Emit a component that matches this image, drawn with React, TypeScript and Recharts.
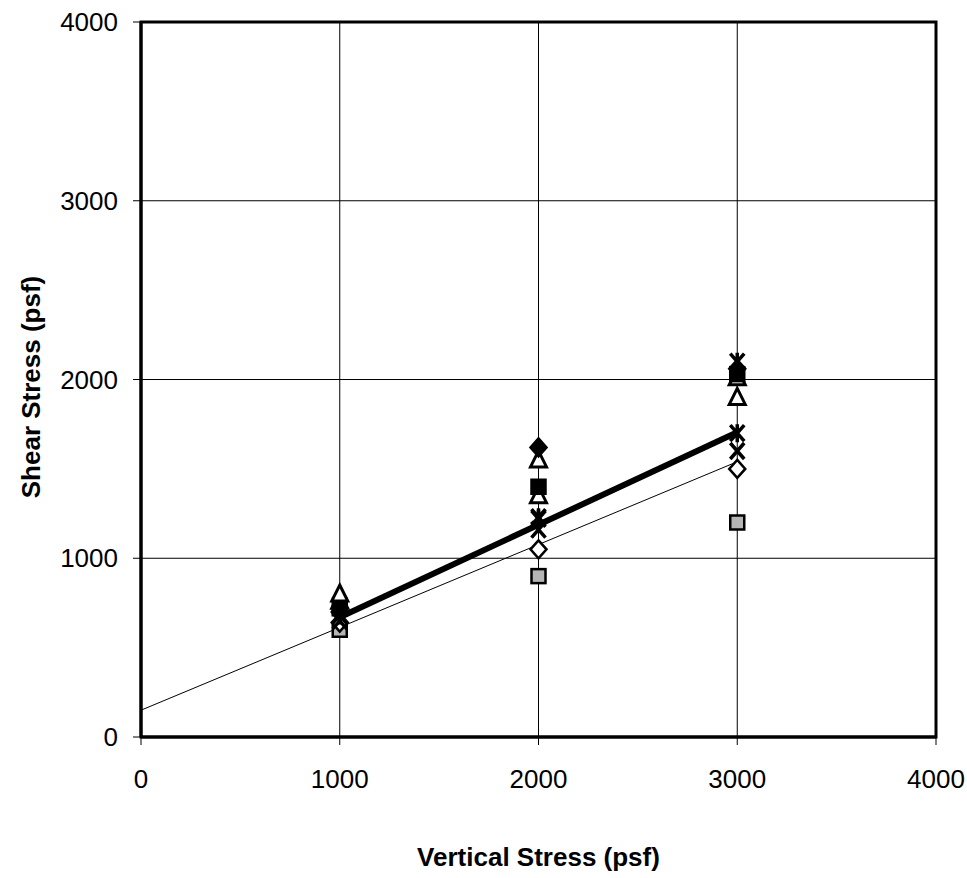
import React from "react";
import {
  ComposedChart,
  Scatter,
  XAxis,
  YAxis,
  CartesianGrid,
  ReferenceArea,
} from "recharts";

const xTicks = [0, 1000, 2000, 3000, 4000];
const yTicks = [0, 1000, 2000, 3000, 4000];

const filledDiamond = [
  { x: 1000, y: 700 },
  { x: 2000, y: 1620 },
  { x: 3000, y: 2060 },
];
const graySquare = [
  { x: 1000, y: 600 },
  { x: 2000, y: 900 },
  { x: 3000, y: 1200 },
];
const openTriangle = [
  { x: 1000, y: 800 },
  { x: 2000, y: 1550 },
  { x: 3000, y: 1900 },
];
const openTriangle2 = [
  { x: 1000, y: 760 },
  { x: 2000, y: 1350 },
  { x: 3000, y: 2010 },
];
const blackSquare = [
  { x: 1000, y: 720 },
  { x: 2000, y: 1400 },
  { x: 3000, y: 2030 },
];
const xMark = [
  { x: 1000, y: 650 },
  { x: 2000, y: 1160 },
  { x: 3000, y: 1600 },
];
const asterisk = [
  { x: 1000, y: 680 },
  { x: 2000, y: 1220 },
  { x: 3000, y: 1700 },
];
const asterisk2 = [
  { x: 1000, y: 740 },
  { x: 2000, y: 1230 },
  { x: 3000, y: 2100 },
];
const openDiamond = [
  { x: 1000, y: 640 },
  { x: 2000, y: 1050 },
  { x: 3000, y: 1500 },
];
const meanFit = [
  { x: 1000, y: 670 },
  { x: 3000, y: 1705 },
];
const lowerFit = [
  { x: 0, y: 150 },
  { x: 3000, y: 1540 },
];

const FONT = "'Liberation Sans', Arial, sans-serif";

// drop the default body margin so the svg can fill the whole window
if (typeof document !== "undefined") document.body.style.margin = "0";

const Diamond = ({ cx, cy, fill }: any) => (
  <path
    d={`M${cx},${cy - 9} L${cx + 8},${cy} L${cx},${cy + 9} L${cx - 8},${cy} Z`}
    fill={fill}
    stroke="#000"
    strokeWidth={2.5}
  />
);
const Square = ({ cx, cy, fill }: any) => (
  <rect x={cx - 7} y={cy - 7} width={14} height={14} fill={fill} stroke="#000" strokeWidth={2.5} />
);
const Triangle = ({ cx, cy }: any) => (
  <path
    d={`M${cx},${cy - 9} L${cx + 8},${cy + 7} L${cx - 8},${cy + 7} Z`}
    fill="#fff"
    stroke="#000"
    strokeWidth={3}
  />
);
const XShape = ({ cx, cy }: any) => (
  <path
    d={`M${cx - 7},${cy - 8} L${cx + 7},${cy + 8} M${cx + 7},${cy - 8} L${cx - 7},${cy + 8}`}
    stroke="#000"
    strokeWidth={3.5}
  />
);
const Asterisk = ({ cx, cy }: any) => (
  <path
    d={`M${cx - 7},${cy - 8} L${cx + 7},${cy + 8} M${cx + 7},${cy - 8} L${cx - 7},${cy + 8} M${cx},${cy - 9} L${cx},${cy + 9}`}
    stroke="#000"
    strokeWidth={3.5}
  />
);
const NoDot = () => <g />;

export default function App() {
  return (
    <div style={{ width: 967, height: 878, overflow: "hidden" }}>
      <ComposedChart
        width={967}
        height={878}
        margin={{ top: 22, right: 31, bottom: 0, left: 0 }}
      >
        <CartesianGrid stroke="#000" strokeWidth={1} verticalValues={xTicks} horizontalValues={yTicks} />
        <XAxis
          type="number"
          dataKey="x"
          domain={[0, 4000]}
          ticks={xTicks}
          height={141}
          tickSize={8}
          tickMargin={25}
          axisLine={{ stroke: "#000", strokeWidth: 3 }}
          tickLine={{ stroke: "#000" }}
          tick={{ fill: "#000", fontSize: 26, fontFamily: FONT }}
          label={{
            content: ({ viewBox }: any) => (
              <text
                x={viewBox.x + viewBox.width / 2}
                y={866}
                textAnchor="middle"
                fontFamily={FONT}
                fontWeight="bold"
                fontSize={26}
                fill="#000"
              >
                Vertical Stress (psf)
              </text>
            ),
          }}
        />
        <YAxis
          type="number"
          dataKey="y"
          domain={[0, 4000]}
          ticks={yTicks}
          width={141}
          tickSize={8}
          tickMargin={15}
          axisLine={{ stroke: "#000", strokeWidth: 3 }}
          tickLine={{ stroke: "#000" }}
          tick={{ fill: "#000", fontSize: 26, fontFamily: FONT }}
          label={{
            content: () => (
              <text
                x={40}
                y={387}
                transform="rotate(-90 40 387)"
                textAnchor="middle"
                fontFamily={FONT}
                fontWeight="bold"
                fontSize={26}
                fill="#000"
              >
                Shear Stress (psf)
              </text>
            ),
          }}
        />
        <ReferenceArea x1={0} x2={4000} y1={0} y2={4000} fill="none" stroke="#000" strokeWidth={3} />
        <Scatter data={lowerFit} line={{ stroke: "#000", strokeWidth: 1 }} shape={NoDot} isAnimationActive={false} />
        <Scatter data={meanFit} line={{ stroke: "#000", strokeWidth: 6 }} shape={NoDot} isAnimationActive={false} />
        <Scatter data={graySquare} shape={(p: any) => <Square {...p} fill="#b5b5b5" />} isAnimationActive={false} />
        <Scatter data={openDiamond} shape={(p: any) => <Diamond {...p} fill="#fff" />} isAnimationActive={false} />
        <Scatter data={xMark} shape={XShape} isAnimationActive={false} />
        <Scatter data={asterisk} shape={Asterisk} isAnimationActive={false} />
        <Scatter data={asterisk2} shape={Asterisk} isAnimationActive={false} />
        <Scatter data={openTriangle2} shape={Triangle} isAnimationActive={false} />
        <Scatter data={blackSquare} shape={(p: any) => <Square {...p} fill="#000" />} isAnimationActive={false} />
        <Scatter data={openTriangle} shape={Triangle} isAnimationActive={false} />
        <Scatter data={filledDiamond} shape={(p: any) => <Diamond {...p} fill="#000" />} isAnimationActive={false} />
      </ComposedChart>
    </div>
  );
}
